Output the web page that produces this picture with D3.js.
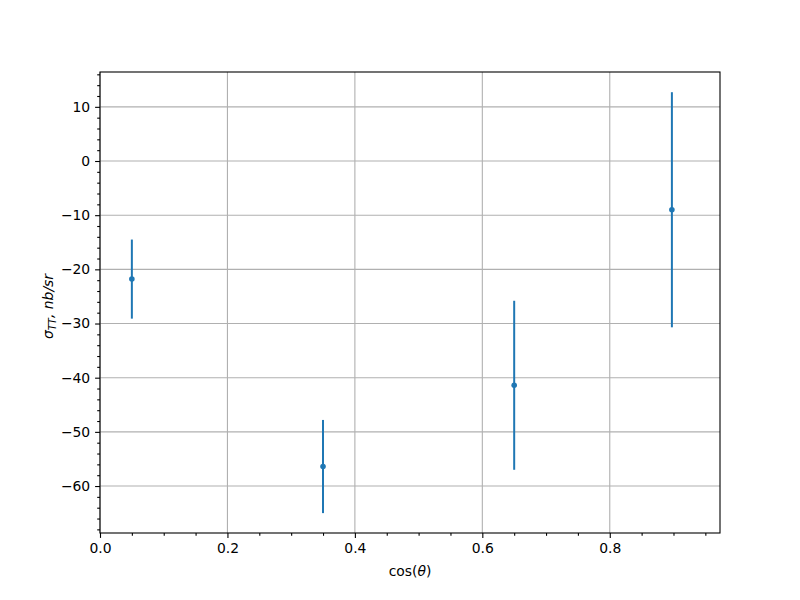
<!DOCTYPE html>
<html><head><meta charset="utf-8">
<script src="https://cdn.jsdelivr.net/npm/d3@7"></script>
<style>body{margin:0;background:#fff}svg{display:block}text{font-family:"DejaVu Sans",sans-serif}</style>
</head><body>
<svg id="c" width="800" height="600"></svg>
<script>
const xs = [0.05, 0.35, 0.65, 0.8975];
const ys = [-21.8, -56.4, -41.4, -9.0];
const errs = [7.3, 8.6, 15.6, 21.7];
const xTicks = [0.0, 0.2, 0.4, 0.6, 0.8];
const yTicks = [10, 0, -10, -20, -30, -40, -50, -60];

const svg = d3.select("#c");
const L = 100, R = 720, T = 72, B = 533;
const x = d3.scaleLinear().domain([0, 0.973]).range([L, R]);
const y = d3.scaleLinear().domain([-68.67, 16.43]).range([B, T]);
const blue = "#1f77b4";

// grid
svg.append("g").selectAll("line").data(xTicks).join("line")
  .attr("x1", d => x(d)).attr("x2", d => x(d)).attr("y1", T).attr("y2", B)
  .attr("stroke", "#b0b0b0").attr("stroke-width", 1.1);
svg.append("g").selectAll("line").data(yTicks).join("line")
  .attr("y1", d => y(d)).attr("y2", d => y(d)).attr("x1", L).attr("x2", R)
  .attr("stroke", "#b0b0b0").attr("stroke-width", 1.1);

// axes
const xMinor = d3.range(0, 0.97, 0.05).filter(v => Math.abs(v/0.2 - Math.round(v/0.2)) > 1e-6);
const yMinor = d3.range(-68, 17, 2).filter(v => v % 10 !== 0);
svg.append("g").attr("transform", `translate(0,${B})`)
  .call(d3.axisBottom(x).tickValues(xTicks).tickFormat(d3.format(".1f")).tickSize(4.9).tickPadding(4.9));
svg.append("g").attr("transform", `translate(0,${B})`)
  .call(d3.axisBottom(x).tickValues(xMinor).tickFormat("").tickSize(2.8)).select(".domain").remove();
svg.append("g").attr("transform", `translate(${L},0)`)
  .call(d3.axisLeft(y).tickValues(yTicks).tickFormat(d => d < 0 ? "\u2212" + Math.abs(d) : d).tickSize(4.9).tickPadding(4.9));
svg.append("g").attr("transform", `translate(${L},0)`)
  .call(d3.axisLeft(y).tickValues(yMinor).tickFormat("").tickSize(2.8)).select(".domain").remove();
svg.selectAll(".tick line").attr("stroke", "#000").attr("stroke-width", 1.1);
svg.selectAll(".tick text").attr("font-size", 13.9).attr("fill", "#000").attr("font-family", "DejaVu Sans");
svg.selectAll(".domain").remove();
// frame
svg.append("rect").attr("x", L).attr("y", T).attr("width", R - L).attr("height", B - T)
  .attr("fill", "none").attr("stroke", "#000").attr("stroke-width", 1.1);

// error bars
const g = svg.append("g");
g.selectAll("line").data(xs).join("line")
  .attr("x1", (d) => x(d)).attr("x2", d => x(d))
  .attr("y1", (d, i) => y(ys[i] + errs[i])).attr("y2", (d, i) => y(ys[i] - errs[i]))
  .attr("stroke", blue).attr("stroke-width", 2);
g.selectAll("circle").data(xs).join("circle")
  .attr("cx", d => x(d)).attr("cy", (d, i) => y(ys[i])).attr("r", 2.8).attr("fill", blue);

// labels
const xl = svg.append("text").attr("x", (L + R) / 2).attr("y", 576).attr("text-anchor", "middle")
  .attr("font-size", 13.9);
xl.append("tspan").text("cos(");
xl.append("tspan").attr("font-style", "italic").text("θ");
xl.append("tspan").text(")");
const yl = svg.append("text").attr("transform", `translate(53,${(T + B) / 2 + 4}) rotate(-90)`)
  .attr("text-anchor", "middle").attr("font-size", 13.9).attr("font-style", "italic");
yl.append("tspan").text("σ");
yl.append("tspan").attr("font-size", 10).attr("dy", 3).text("TT");
yl.append("tspan").attr("dy", -3).text(", nb/sr");
</script>
</body></html>
